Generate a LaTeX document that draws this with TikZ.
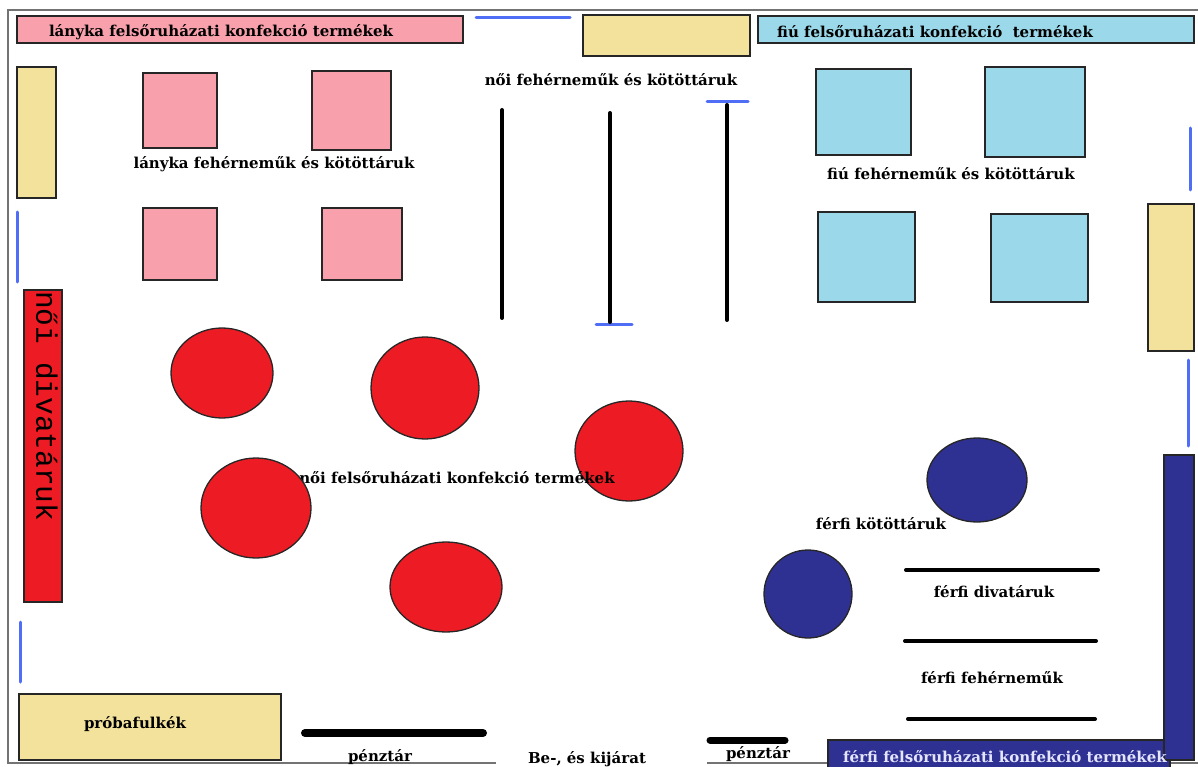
\documentclass[tikz,border=0pt]{standalone}
\usepackage{fontspec}
\setmainfont{DejaVu Serif}
\newfontfamily\monofont{Liberation Mono}
\usepackage{xcolor}

\definecolor{lanyPink}{HTML}{F8A1AC}
\definecolor{shelfYellow}{HTML}{F3E29B}
\definecolor{fiuCyan}{HTML}{9BD9EA}
\definecolor{noiRed}{HTML}{ED1C24}
\definecolor{ferfiBlue}{HTML}{2E3192}
\definecolor{doorBlue}{HTML}{4F6DF5}

\tikzset{
    box/.style={draw=black!85, line width=1.3pt},
    label/.style={font=\bfseries\fontsize{15}{17}\selectfont, inner sep=0pt},
    door/.style={draw=doorBlue, line width=3pt, line cap=round},
    rack/.style={draw=black, line width=4pt, line cap=round},
    wall/.style={draw=black!55, line width=1.8pt}
}

\begin{document}
\begin{tikzpicture}[x=1pt, y=-1pt]

        \useasboundingbox (0,0) rectangle (1198,767);

        %% Walls
        \draw [wall] (1198,10) -- (8,10) -- (8,763) -- (496,763);
        \draw [wall] (707,763) -- (1198,763);

        %% Doors
        \draw [door] (476,18) -- (570,18);
        \draw [door] (707,102) -- (748,102);
        \draw [door] (596,324) -- (632,324);
        \draw [door] (17,212) -- (17,282);
        \draw [door] (20,622) -- (20,682);
        \draw [door] (1190,128) -- (1190,190);
        \draw [door] (1188,360) -- (1188,446);

        %% Top bars
        \draw [box, fill=lanyPink] (17,16) rectangle (463,43);
        \node (lanykaFelso) [label] at (221,32) {lányka felsőruházati konfekció termékek};
        \draw [box, fill=shelfYellow] (583,15) rectangle (750,56);
        \draw [box, fill=fiuCyan] (758,16) rectangle (1194,43);
        \node (fiuFelso) [label] at (935,32) {fiú felsőruházati konfekció\ \ termékek};

        %% Side shelves
        \draw [box, fill=shelfYellow] (17,67) rectangle (56,198);
        \draw [box, fill=shelfYellow] (1148,204) rectangle (1194,351);

        %% Girls
        \draw [box, fill=lanyPink] (143,73) rectangle (217,148);
        \draw [box, fill=lanyPink] (312,71) rectangle (391,150);
        \draw [box, fill=lanyPink] (143,208) rectangle (217,280);
        \draw [box, fill=lanyPink] (322,208) rectangle (402,280);
        \node (lanykaFeher) [label] at (274,164) {lányka fehérneműk és kötöttáruk};

        %% Women underwear racks
        \node (noiFeher) [label] at (611,80) {női fehérneműk és kötöttáruk};
        \draw [rack] (502,110) -- (502,318);
        \draw [rack] (610,113) -- (610,322);
        \draw [rack] (727,105) -- (727,320);

        %% Boys
        \draw [box, fill=fiuCyan] (816,69) rectangle (911,155);
        \draw [box, fill=fiuCyan] (985,67) rectangle (1085,157);
        \draw [box, fill=fiuCyan] (818,212) rectangle (915,302);
        \draw [box, fill=fiuCyan] (991,214) rectangle (1088,302);
        \node (fiuFeher) [label] at (951,174) {fiú fehérneműk és kötöttáruk};

        %% Women fashion
        \draw [box, fill=noiRed] (24,290) rectangle (62,602);
        \node (noiDivat) [font=\monofont\fontsize{29.5}{29.5}\selectfont, rotate=-90, anchor=north west, inner sep=0pt] at (58,291) {női divatáruk};

        %% Women tables
        \draw [box, fill=noiRed] (222,373) ellipse [x radius=51, y radius=45];
        \draw [box, fill=noiRed] (425,388) ellipse [x radius=54, y radius=51];
        \draw [box, fill=noiRed] (629,451) ellipse [x radius=54, y radius=50];
        \node (noiFelso) [label] at (457,478) {női felsőruházati konfekció termékek};
        \draw [box, fill=noiRed] (256,508) ellipse [x radius=55, y radius=50];
        \draw [box, fill=noiRed] (446,587) ellipse [x radius=56, y radius=45];

        %% Men
        \draw [box, fill=ferfiBlue] (977,480) ellipse [x radius=50, y radius=42];
        \draw [box, fill=ferfiBlue] (808,594) ellipse [x radius=44, y radius=44];
        \node (ferfiKotott) [label] at (881,524) {férfi kötöttáruk};
        \draw [rack] (906,570) -- (1098,570);
        \node (ferfiDivat) [label] at (994,592) {férfi divatáruk};
        \draw [rack] (905,641) -- (1096,641);
        \node (ferfiFeher) [label] at (992,678) {férfi fehérneműk};
        \draw [rack] (908,719) -- (1095,719);
        \draw [box, fill=ferfiBlue] (828,740) rectangle (1170,775);
        \draw [box, fill=ferfiBlue] (1164,455) rectangle (1194,760);
        \node (ferfiFelso) [label, text=blue!10] at (1005,757) {férfi felsőruházati konfekció termékek};

        %% Fitting rooms and exit
        \draw [box, fill=shelfYellow] (19,694) rectangle (281,760);
        \node (probafulke) [label] at (135,724) {próbafulkék};
        \draw [rack, line width=8pt] (305,733) -- (483,733);
        \node (penztarA) [label] at (380,757) {pénztár};
        \draw [rack, line width=7pt] (710,740) -- (785,740);
        \node (penztarB) [label] at (758,754) {pénztár};
        \node (bejarat) [label] at (587,759) {Be-, és kijárat};

\end{tikzpicture}
\end{document}
